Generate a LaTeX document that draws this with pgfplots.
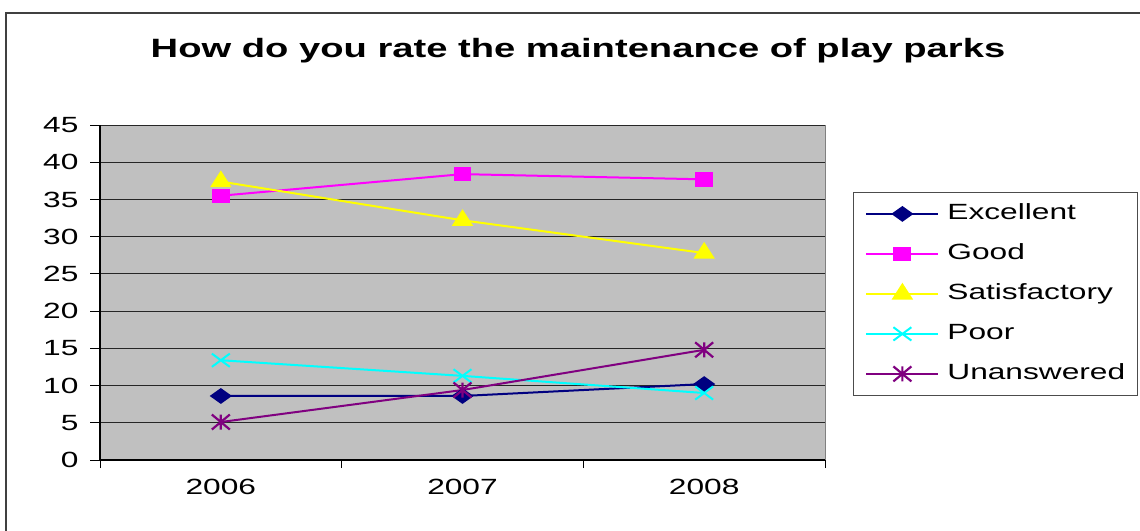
\documentclass[border=0pt]{standalone}
\usepackage{pgfplots}
\pgfplotsset{compat=1.18}
\usepackage{fontspec}
\setmainfont{Liberation Sans}[FakeStretch=1.44]
\definecolor{plotbg}{RGB}{192,192,192}
\definecolor{frameg}{RGB}{128,128,128}
\definecolor{cExc}{RGB}{0,0,128}
\definecolor{cGood}{RGB}{255,0,255}
\definecolor{cSat}{RGB}{255,255,0}
\definecolor{cPoor}{RGB}{0,255,255}
\definecolor{cUn}{RGB}{128,0,128}
\pgfdeclareplotmark{excelstar}{%
  \pgfpathmoveto{\pgfqpoint{0pt}{-\pgfplotmarksize}}%
  \pgfpathlineto{\pgfqpoint{0pt}{\pgfplotmarksize}}%
  \pgfpathmoveto{\pgfqpoint{-1.2\pgfplotmarksize}{-\pgfplotmarksize}}%
  \pgfpathlineto{\pgfqpoint{1.2\pgfplotmarksize}{\pgfplotmarksize}}%
  \pgfpathmoveto{\pgfqpoint{-1.2\pgfplotmarksize}{\pgfplotmarksize}}%
  \pgfpathlineto{\pgfqpoint{1.2\pgfplotmarksize}{-\pgfplotmarksize}}%
  \pgfusepathqstroke}
\begin{document}
\begin{tikzpicture}[x=1pt,y=1pt]
\useasboundingbox (0,0) rectangle (1140,530);
\draw[line width=1.2pt, black!75] (6,-2) -- (6,517) -- (1142,517);
\node[font=\fontsize{26.5}{30}\selectfont\bfseries] at (578,479) {How do you rate the maintenance of play parks};
\begin{axis}[
  at={(100pt,70pt)}, anchor=south west,
  scale only axis, width=725pt, height=335pt,
  xmin=-0.5, xmax=2.5, ymin=0, ymax=45,
  xtick={0,1,2}, xticklabels={2006,2007,2008},
  minor xtick={-0.5,0.5,1.5,2.5},
  ytick={0,5,...,45},
  ymajorgrids, grid style={black!85, line width=0.8pt},
  axis lines*=left,
  axis line style={black, line width=1.2pt},
  axis background/.style={fill=plotbg, draw=frameg, line width=1pt},
  tick align=outside,
  major tick length=10pt, minor tick length=8pt,
  major x tick style={draw=none},
  tick style={black, line width=0.8pt},
  /pgf/number format/assume math mode=true,
  tick label style={font=\fontsize{22}{26}\selectfont},
  yticklabel style={xshift=-8pt},
  xticklabel style={yshift=-6pt},
  legend style={at={(1.0386,0.8)}, anchor=north west, draw=black!70, fill=white,
    line width=0.8pt,
    font=\fontsize{22}{26}\selectfont, inner xsep=12pt, inner ysep=11pt,
    nodes={inner sep=0pt, text height=16pt, text depth=5pt},
    row sep=19pt, column sep=8pt},
  legend cell align=left,
  legend image code/.code={\draw[mark repeat=2, mark phase=2] plot coordinates {(0pt,0pt) (36pt,0pt) (72pt,0pt)};},
]
\addplot[color=cExc, line width=2pt, mark=diamond*, mark size=6.7pt, mark options={xscale=1.87, solid}] coordinates {(0,8.6) (1,8.6) (2,10.2)};
\addlegendentry{Excellent}
\addplot[color=cGood, line width=2pt, mark=square*, mark size=6.2pt, mark options={xscale=1.28}] coordinates {(0,35.5) (1,38.4) (2,37.7)};
\addlegendentry{Good}
\addplot[color=cSat, line width=2pt, mark=triangle*, mark size=9.3pt, mark options={xscale=1.11}] coordinates {(0,37.4) (1,32.2) (2,27.8)};
\addlegendentry{Satisfactory}
\addplot[color=cPoor, line width=2pt, mark=x, mark size=9.4pt, mark options={xscale=1.35, line width=2pt}] coordinates {(0,13.4) (1,11.3) (2,9.0)};
\addlegendentry{Poor}
\addplot[color=cUn, line width=2pt, mark=excelstar, mark size=7.5pt, mark options={line width=2.2pt}] coordinates {(0,5.1) (1,9.4) (2,14.8)};
\addlegendentry{Unanswered}
\end{axis}
\end{tikzpicture}
\end{document}
